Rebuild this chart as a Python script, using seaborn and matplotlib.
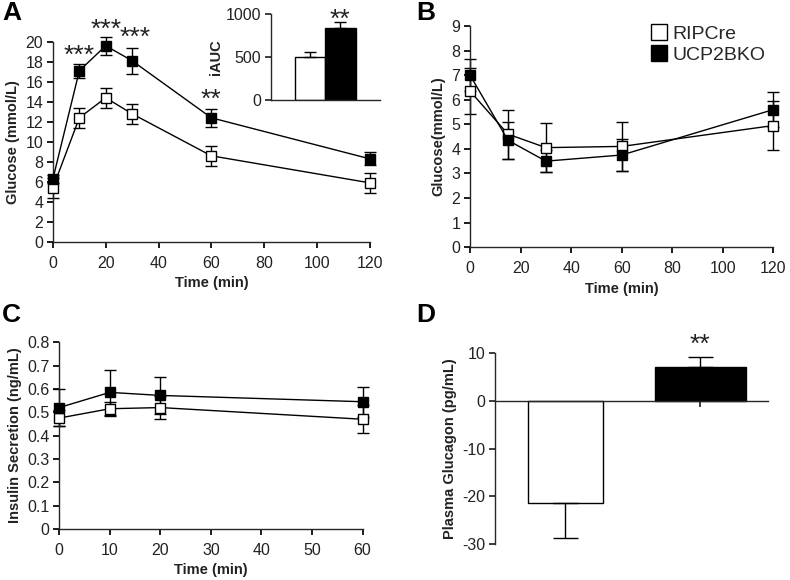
import matplotlib
matplotlib.use('Agg')
import matplotlib.pyplot as plt
from matplotlib.lines import Line2D
from matplotlib.ticker import FuncFormatter
import seaborn as sns
import pandas as pd

# Panel A - IPGTT glucose
time_a = [0, 10, 20, 30, 60, 120]
ripcre_a = [5.4, 12.4, 14.4, 12.8, 8.6, 5.9]
ripcre_a_err = [1.0, 1.0, 1.0, 1.0, 1.0, 1.0]
ucp2_a = [6.3, 17.1, 19.6, 18.1, 12.4, 8.3]
ucp2_a_err = [0.4, 0.7, 0.9, 1.3, 0.9, 0.65]
stars_a = {10: ('***', 18.6), 20: ('***', 21.2), 31: ('***', 20.4), 60: ('**', 14.2)}

# inset - iAUC
groups = ['RIPCre', 'UCP2BKO']
iauc = [500, 837]
iauc_err = [58, 70]

# Panel B - ITT glucose
time_b = [0, 15, 30, 60, 120]
ripcre_b = [6.35, 4.6, 4.05, 4.1, 4.95]
ripcre_b_err = [0.95, 1.0, 1.0, 1.0, 1.0]
ucp2_b = [7.0, 4.35, 3.5, 3.75, 5.6]
ucp2_b_err = [0.65, 0.75, 0.45, 0.65, 0.7]

# Panel C - insulin secretion
time_c = [0, 10, 20, 60]
ripcre_c = [0.475, 0.515, 0.52, 0.47]
ripcre_c_err = [0.035, 0.03, 0.05, 0.06]
ucp2_c = [0.52, 0.585, 0.572, 0.545]
ucp2_c_err = [0.08, 0.095, 0.078, 0.065]

# Panel D - plasma glucagon
glucagon = [-21.3, 7.2]
glucagon_err = [7.4, 2.1]

sns.set_theme(style="ticks")
plt.rcParams['font.family'] = ['Liberation Sans', 'DejaVu Sans']
plt.rcParams['axes.unicode_minus'] = False
plt.rcParams['axes.linewidth'] = 1.0
plt.rcParams['xtick.major.size'] = 4
plt.rcParams['ytick.major.size'] = 4
plt.rcParams['xtick.labelsize'] = 11.5
plt.rcParams['ytick.labelsize'] = 11.5
plt.rcParams['xtick.major.pad'] = 6
plt.rcParams['ytick.major.pad'] = 3
TXT = '#222222'

fig = plt.figure(figsize=(7.9, 5.8), dpi=100)


def time_panel(ax, t, r, re, u, ue):
    for vals, errs, face in [(r, re, 'white'), (u, ue, 'black')]:
        df = pd.DataFrame({'time': t, 'val': vals})
        ax.errorbar(t, vals, yerr=errs, fmt='none', ecolor='black',
                    elinewidth=1, capsize=4, capthick=1, zorder=2, clip_on=False)
        sns.lineplot(data=df, x='time', y='val', ax=ax, color='black', lw=1,
                     marker='s', markersize=7.5, markerfacecolor=face,
                     markeredgecolor='black', markeredgewidth=1, zorder=3,
                     clip_on=False)
    sns.despine(ax=ax)
    ax.tick_params(colors='black', labelcolor=TXT)


def label_style(ax, xl, yl):
    ax.set_xlabel(xl, fontsize=10.5, fontweight='bold', color=TXT)
    ax.set_ylabel(yl, fontsize=10.5, fontweight='bold', color=TXT)


# ---- A ----
axA = fig.add_axes([0.067, 0.583, 0.401, 0.345])
time_panel(axA, time_a, ripcre_a, ripcre_a_err, ucp2_a, ucp2_a_err)
axA.set_xlim(0, 120)
axA.set_ylim(0, 20)
axA.set_xticks(range(0, 121, 20))
axA.set_yticks(range(0, 21, 2))
label_style(axA, 'Time (min)', 'Glucose (mmol/L)')
for tx, (s, yv) in stars_a.items():
    axA.text(tx, yv, s, ha='center', va='center', fontsize=19, color=TXT)

# inset iAUC
axI = fig.add_axes([0.343, 0.828, 0.138, 0.148])
dfI = pd.DataFrame({'group': groups, 'iauc': iauc})
sns.barplot(data=dfI, x='group', y='iauc', hue='group',
            palette={'RIPCre': 'white', 'UCP2BKO': 'black'},
            edgecolor='black', linewidth=1, width=1.0, ax=axI, legend=False)
axI.errorbar([0, 1], iauc, yerr=[[0, 0], iauc_err], fmt='none', ecolor='black',
             elinewidth=1, capsize=4, capthick=1)
axI.set_xlim(-1.28, 2.3)
axI.set_ylim(0, 1000)
axI.set_yticks([0, 500, 1000])
axI.set_xticks([])
axI.set_xlabel('')
axI.set_ylabel('iAUC', fontsize=10.5, fontweight='bold', color=TXT, labelpad=2)
sns.despine(ax=axI)
axI.tick_params(labelcolor=TXT)
axI.text(1, 930, '**', ha='center', va='center', fontsize=19, color=TXT)

# ---- B ----
axB = fig.add_axes([0.595, 0.574, 0.384, 0.381])
time_panel(axB, time_b, ripcre_b, ripcre_b_err, ucp2_b, ucp2_b_err)
axB.set_xlim(0, 120)
axB.set_ylim(0, 9)
axB.set_xticks(range(0, 121, 20))
axB.set_yticks(range(0, 10))
label_style(axB, 'Time (min)', 'Glucose(mmol/L)')
handles = [Line2D([], [], ls='none', marker='s', markersize=11, markerfacecolor=f,
                  markeredgecolor='black', markeredgewidth=1) for f in ['white', 'black']]
axB.legend(handles, groups, loc='upper left', bbox_to_anchor=(0.57, 1.04),
           frameon=False, fontsize=14, handlelength=0.8, handletextpad=0.3,
           labelspacing=0.2, borderaxespad=0)

# ---- C ----
axC = fig.add_axes([0.075, 0.088, 0.384, 0.322])
time_panel(axC, time_c, ripcre_c, ripcre_c_err, ucp2_c, ucp2_c_err)
axC.set_xlim(0, 60)
axC.set_ylim(0, 0.8)
axC.set_xticks(range(0, 61, 10))
axC.set_yticks([i / 10 for i in range(9)])
axC.yaxis.set_major_formatter(FuncFormatter(lambda v, p: f'{v:g}'))
label_style(axC, 'Time (min)', 'Insulin Secretion (ng/mL)')

# ---- D ----
axD = fig.add_axes([0.627, 0.062, 0.345, 0.329])
dfD = pd.DataFrame({'group': groups, 'glucagon': glucagon})
sns.barplot(data=dfD, x='group', y='glucagon', hue='group',
            palette={'RIPCre': 'white', 'UCP2BKO': 'black'},
            edgecolor='black', linewidth=1, width=0.62, ax=axD, legend=False)
# the two bars are not drawn equally wide in the original
for patch, w in zip(axD.patches, [0.56, 0.68]):
    cx = patch.get_x() + patch.get_width() / 2
    patch.set_width(w)
    patch.set_x(cx - w / 2)
axD.errorbar([0, 1], glucagon, yerr=[[glucagon_err[0], 0], [0, glucagon_err[1]]],
             fmt='none', ecolor='black', elinewidth=1, capsize=9, capthick=1)
axD.set_xlim(-0.52, 1.5)
axD.set_ylim(-30, 10)
axD.set_yticks([-30, -20, -10, 0, 10])
axD.set_xticks([0, 1])
axD.set_xticklabels([])
axD.set_xlabel('')
axD.set_ylabel('Plasma Glucagon (pg/mL)', fontsize=10.5, fontweight='bold', color=TXT)
sns.despine(ax=axD)
axD.spines['bottom'].set_position(('data', 0))
axD.tick_params(labelcolor=TXT)
axD.text(1, 11.8, '**', ha='center', va='center', fontsize=19, color=TXT)

# panel letters
for x, y, s in [(0.003, 0.998, 'A'), (0.527, 0.998, 'B'), (0.003, 0.478, 'C'), (0.527, 0.478, 'D')]:
    fig.text(x, y, s, fontsize=19, fontweight='bold', va='top', ha='left', color='black')

fig.savefig('out.png', dpi=100)
